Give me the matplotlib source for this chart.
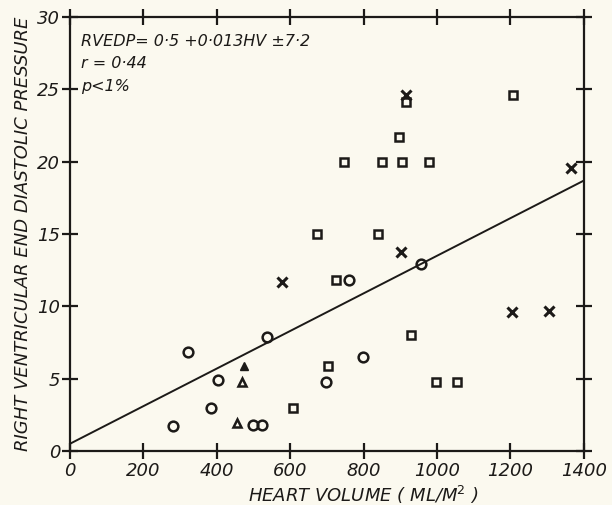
import matplotlib
matplotlib.use("Agg")
import matplotlib.pyplot as plt
import numpy as np
from matplotlib import font_manager

# ---- data ----
squares_x = [746, 850, 905, 978, 896, 915, 1207, 673, 839, 725, 929, 608, 703, 997, 1054]
squares_y = [20, 20, 20, 20, 21.7, 24.1, 24.6, 15, 15, 11.8, 8.0, 3.0, 5.9, 4.8, 4.8]
circles_x = [760, 956, 321, 537, 403, 384, 281, 499, 523, 697, 798]
circles_y = [11.8, 12.9, 6.85, 7.9, 4.9, 3.0, 1.7, 1.8, 1.8, 4.8, 6.5]
cross_x = [577, 902, 915, 1204, 1305, 1365]
cross_y = [11.7, 13.75, 24.6, 9.6, 9.7, 19.6]
tri_open_x = [468, 455]
tri_open_y = [4.8, 1.9]
tri_filled_x = [474]
tri_filled_y = [5.9]
intercept, slope = 0.5, 0.013
x_ticks = [0, 200, 400, 600, 800, 1000, 1200, 1400]
y_ticks = [0, 5, 10, 15, 20, 25, 30]

names = {f.name for f in font_manager.fontManager.ttflist}
fam = "Liberation Sans Narrow" if "Liberation Sans Narrow" in names else "DejaVu Sans"
ink = "#1c1a18"
bg = "#fbf9ef"

fig = plt.figure(figsize=(6.12, 5.05), dpi=100, facecolor=bg)
ax = fig.add_axes([0.1144, 0.107, 0.8396, 0.859], facecolor=bg)
ax.set_xlim(0, 1400)
ax.set_ylim(0, 30)

mk = dict(linestyle="none", color=ink, markerfacecolor="none", markeredgewidth=1.8)
ax.plot(squares_x, squares_y, marker="s", markersize=6, **mk)
ax.plot(circles_x, circles_y, marker="o", markersize=7, **mk)
ax.plot(cross_x, cross_y, marker="x", markersize=7, linestyle="none", color=ink, markeredgewidth=2.2)
ax.plot(tri_open_x, tri_open_y, marker="^", markersize=6, **mk)
ax.plot(tri_filled_x, tri_filled_y, marker="^", markersize=6, linestyle="none", color=ink)

xl = np.array([0, 1400])
ax.plot(xl, intercept + slope * xl, color=ink, lw=1.4)

for s in ax.spines.values():
    s.set_color(ink)
    s.set_linewidth(1.6)

ax.set_xticks(x_ticks)
ax.set_yticks(y_ticks)
ax.tick_params(direction="inout", length=12, width=1.6, color=ink,
               top=True, right=True, labeltop=False, labelright=False)
tf = dict(family=fam, style="italic", size=13, color=ink)
ax.set_xticklabels([str(v) for v in x_ticks], **tf)
ax.set_yticklabels([str(v) for v in y_ticks], **tf)
ax.tick_params(axis="x", pad=2)
ax.tick_params(axis="y", pad=1)

ax.set_xlabel("HEART VOLUME ( ML/M$^2$ )", family=fam, style="italic", size=13, color=ink, labelpad=0)
ax.xaxis.set_label_coords(0.57, -0.075)
ax.set_ylabel("RIGHT VENTRICULAR END DIASTOLIC PRESSURE", family=fam, style="italic", size=13,
              color=ink, labelpad=4)

txt = dict(family=fam, style="italic", size=11.5, color=ink, va="center", ha="left")
ax.text(30, 28.3, "RVEDP= 0·5 +0·013HV ±7·2", **txt)
ax.text(30, 26.8, "r = 0·44", **txt)
ax.text(30, 25.2, "p<1%", **txt)

fig.savefig("out.png", dpi=100, facecolor=bg)
